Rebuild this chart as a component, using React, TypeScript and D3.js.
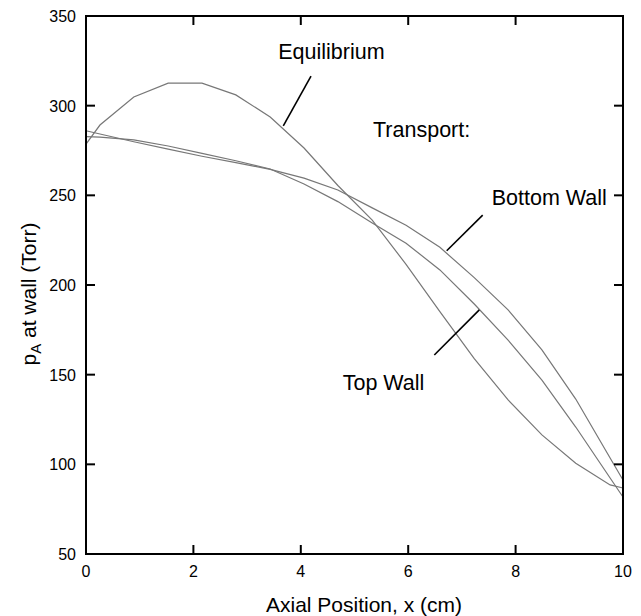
import React from "react";
import * as d3 from "d3";

const xPositions = [0, 0.26, 0.89, 1.53, 2.16, 2.79, 3.43, 4.06, 4.69, 5.33, 5.96, 6.59, 7.23, 7.86, 8.49, 9.12, 9.76, 10];
const equilibrium = [278.6, 289.2, 304.8, 312.6, 312.6, 306.0, 293.7, 276.4, 255.5, 236.2, 211.5, 185.1, 158.9, 135.9, 116.4, 100.6, 88.5, 86.8];
const bottomWall = [286.0, 284.2, 279.9, 275.8, 271.8, 268.2, 264.5, 259.6, 253.0, 243.0, 233.3, 221.0, 204.1, 186.1, 163.8, 136.4, 103.5, 91.3];
const topWall = [282.7, 282.5, 280.9, 277.5, 273.4, 269.3, 264.7, 256.3, 246.5, 234.6, 223.3, 208.4, 189.4, 169.3, 147.0, 120.8, 92.4, 81.8];

const xTicks = [0, 2, 4, 6, 8, 10];
const yTicks = [50, 100, 150, 200, 250, 300, 350];

const labels = ["Equilibrium", "Transport:", "Bottom Wall", "Top Wall"];
const labelX = [3.58, 5.345, 7.555, 4.78];
const labelY = [326.0, 282.5, 244.6, 141.4];
const leaderFrom = [[4.19, 316.5], null, [7.387, 239.0], [7.324, 186.1]];
const leaderTo = [[3.674, 288.7], null, [6.717, 219.1], [6.486, 160.96]];

const W = 641, H = 616;
const left = 86, right = 623, top = 16, bottom = 554;
const FONT = "'Liberation Sans', Arial, Helvetica, sans-serif";

export default function App() {
  const x = d3.scaleLinear().domain([0, 10]).range([left, right]);
  const y = d3.scaleLinear().domain([50, 350]).range([bottom, top]);
  const line = d3.line<number>().x((_, i) => x(xPositions[i])).y((d) => y(d));
  const series = [equilibrium, bottomWall, topWall];
  const tick = 9;

  return (
    <svg width={W} height={H} style={{ position: "absolute", left: 0, top: 0, background: "#fff" }} fontFamily={FONT}>
      <rect x={0} y={0} width={W} height={H} fill="#fff" />
      {series.map((s, i) => (
        <path key={i} d={line(s) || ""} fill="none" stroke="#777" strokeWidth={1.2} />
      ))}
      <rect x={left} y={top} width={right - left} height={bottom - top} fill="none" stroke="#000" strokeWidth={2} />
      {xTicks.map((t) => (
        <g key={"xt" + t}>
          <line x1={x(t)} x2={x(t)} y1={bottom} y2={bottom - tick} stroke="#000" strokeWidth={2} />
          <line x1={x(t)} x2={x(t)} y1={top} y2={top + tick} stroke="#000" strokeWidth={2} />
          <text x={x(t)} y={577} textAnchor="middle" fontSize={16} fill="#000">{t}</text>
        </g>
      ))}
      {yTicks.map((t) => (
        <g key={"yt" + t}>
          <line x1={left} x2={left + tick} y1={y(t)} y2={y(t)} stroke="#000" strokeWidth={2} />
          <line x1={right} x2={right - tick} y1={y(t)} y2={y(t)} stroke="#000" strokeWidth={2} />
          <text x={76} y={y(t) + 6} textAnchor="end" fontSize={16} fill="#000">{t}</text>
        </g>
      ))}
      <text x={364} y={612} textAnchor="middle" fontSize={21} fill="#000">Axial Position, x (cm)</text>
      <text transform={`translate(36, 294) rotate(-90)`} textAnchor="middle" fontSize={21} fill="#000">
        p<tspan fontSize={15} dy={5}>A</tspan><tspan dy={-5}> at wall (Torr)</tspan>
      </text>
      {labels.map((l, i) => (
        <g key={l}>
          <text x={x(labelX[i])} y={y(labelY[i])} fontSize={21.5} fill="#000">{l}</text>
          {leaderFrom[i] && leaderTo[i] && (
            <line
              x1={x(leaderFrom[i]![0])}
              y1={y(leaderFrom[i]![1])}
              x2={x(leaderTo[i]![0])}
              y2={y(leaderTo[i]![1])}
              stroke="#000"
              strokeWidth={1.6}
            />
          )}
        </g>
      ))}
    </svg>
  );
}
